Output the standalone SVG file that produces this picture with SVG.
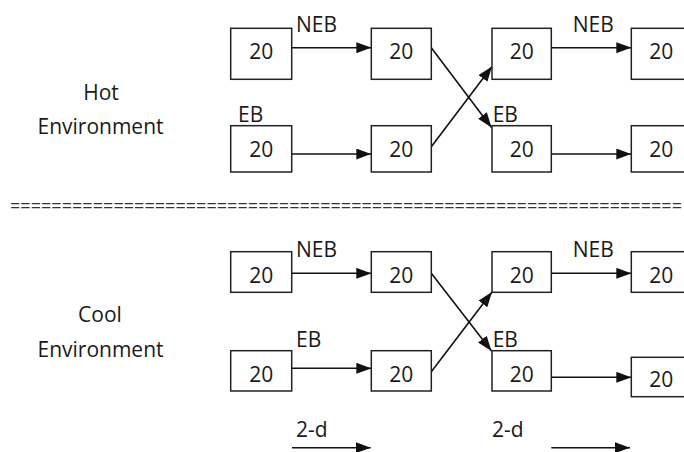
<svg xmlns="http://www.w3.org/2000/svg" width="684" height="452" viewBox="0 0 684 452">
<style>
text{font-family:"Open Sans","Noto Sans","Liberation Sans",sans-serif;font-size:21px;fill:#1a1a1a}
.n{text-anchor:middle}
.box{fill:#fff;stroke:#222;stroke-width:1.5}
.c{stroke:#111;stroke-width:1.6;fill:none;marker-end:url(#ah)}
.sep{font-size:18px;fill:#333}
</style>
<defs>
<marker id="ah" markerUnits="userSpaceOnUse" markerWidth="15" markerHeight="11" refX="15" refY="5.5" orient="auto">
<path d="M0,0 L15,5.5 L0,11 z" fill="#111"/>
</marker>
</defs>
<rect width="684" height="452" fill="#fff"/>
<g id="labels">
<text class="n" x="101" y="100">Hot</text>
<text class="n" x="100.5" y="134.3">Environment</text>
<text class="n" x="100" y="321.7">Cool</text>
<text class="n" x="100.5" y="356.7">Environment</text>
<text class="sep" x="10" y="211.5" textLength="672" lengthAdjust="spacing">=================================================================</text>
<text x="296" y="31.7">NEB</text>
<text x="238" y="121.7">EB</text>
<text x="572.7" y="31.7">NEB</text>
<text x="492.7" y="121.7">EB</text>
<text x="296" y="256.7">NEB</text>
<text x="296" y="346.7">EB</text>
<text x="572.7" y="256.7">NEB</text>
<text x="492.7" y="346.7">EB</text>
<text x="296" y="436.7">2-d</text>
<text x="492" y="436.7">2-d</text>
</g>
<g id="connectors">
<line class="c" x1="291.7" y1="47.7" x2="371.3" y2="47.7"/>
<line class="c" x1="291.7" y1="154" x2="371.3" y2="154"/>
<line class="c" x1="431.3" y1="47.7" x2="491.5" y2="127.5"/>
<line class="c" x1="431.3" y1="146.7" x2="492" y2="66.5"/>
<line class="c" x1="551.3" y1="47.7" x2="631.3" y2="47.7"/>
<line class="c" x1="551.3" y1="154" x2="631.3" y2="154"/>
<line class="c" x1="291.7" y1="273.3" x2="371.3" y2="273.3"/>
<line class="c" x1="291.7" y1="368.3" x2="371.3" y2="368.3"/>
<line class="c" x1="431.3" y1="273.3" x2="491.5" y2="351"/>
<line class="c" x1="431.3" y1="371.7" x2="492" y2="292"/>
<line class="c" x1="551.3" y1="273.3" x2="631.3" y2="273.3"/>
<line class="c" x1="551.3" y1="377.3" x2="631.3" y2="377.3"/>
<line class="c" x1="292" y1="447.7" x2="370.7" y2="447.7"/>
<line class="c" x1="551.3" y1="447.7" x2="630" y2="447.7"/>
</g>
<g id="hotA1"><rect class="box" x="230.7" y="28.3" width="61" height="51"/><text class="n" x="261.2" y="58.5">20</text></g>
<g id="hotB1"><rect class="box" x="371.3" y="28.3" width="60" height="51"/><text class="n" x="401.3" y="58.5">20</text></g>
<g id="hotC1"><rect class="box" x="492" y="28.3" width="59.3" height="51"/><text class="n" x="521.7" y="58.5">20</text></g>
<g id="hotD1"><rect class="box" x="631.3" y="28.3" width="60" height="51"/><text class="n" x="661.3" y="58.5">20</text></g>
<g id="hotA2"><rect class="box" x="230.7" y="125.7" width="61" height="46.3"/><text class="n" x="261.2" y="156.7">20</text></g>
<g id="hotB2"><rect class="box" x="371.3" y="125.7" width="60" height="46.3"/><text class="n" x="401.3" y="156.7">20</text></g>
<g id="hotC2"><rect class="box" x="492" y="125.7" width="59.3" height="46.3"/><text class="n" x="521.7" y="156.7">20</text></g>
<g id="hotD2"><rect class="box" x="631.3" y="125.7" width="60" height="46.3"/><text class="n" x="661.3" y="156.7">20</text></g>
<g id="coolA1"><rect class="box" x="230.7" y="251.7" width="61" height="40.6"/><text class="n" x="261.2" y="283.3">20</text></g>
<g id="coolB1"><rect class="box" x="371.3" y="251.7" width="60" height="40.6"/><text class="n" x="401.3" y="283.3">20</text></g>
<g id="coolC1"><rect class="box" x="492" y="251.7" width="59.3" height="40.6"/><text class="n" x="521.7" y="283.3">20</text></g>
<g id="coolD1"><rect class="box" x="631.3" y="251.7" width="60" height="40.6"/><text class="n" x="661.3" y="283.3">20</text></g>
<g id="coolA2"><rect class="box" x="230.7" y="350.7" width="61" height="40.3"/><text class="n" x="261.2" y="381.7">20</text></g>
<g id="coolB2"><rect class="box" x="371.3" y="350.7" width="60" height="40.3"/><text class="n" x="401.3" y="381.7">20</text></g>
<g id="coolC2"><rect class="box" x="492" y="350.7" width="59.3" height="40.3"/><text class="n" x="521.7" y="381.7">20</text></g>
<g id="coolD2"><rect class="box" x="631.3" y="357.3" width="60" height="39.4"/><text class="n" x="661.3" y="386.7">20</text></g>
</svg>
